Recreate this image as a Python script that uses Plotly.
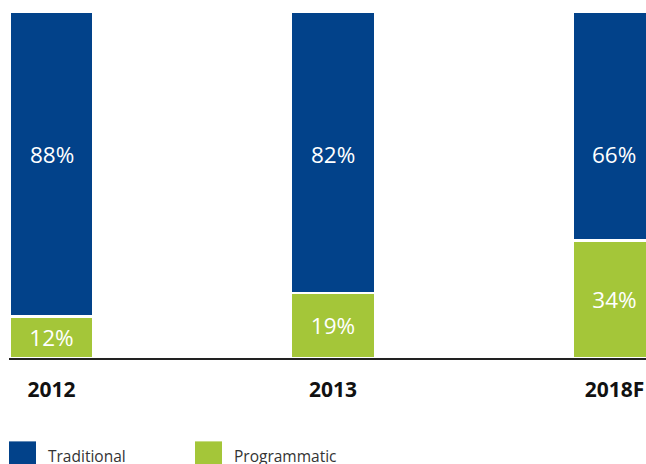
import plotly.graph_objects as go

categories = ["2012", "2013", "2018F"]
traditional = [88, 82, 66]
programmatic = [12, 19, 34]

BLUE = "#02428A"
GREEN = "#A4C639"
FONT = "Open Sans"

xpos = list(range(len(categories)))

fig = go.Figure()
fig.add_trace(go.Bar(
    x=xpos, y=programmatic, name="Programmatic",
    marker=dict(color=GREEN, line=dict(color="white", width=2.5)),
    width=0.297,
    text=[f"{v}%" for v in programmatic],
    textposition="inside", insidetextanchor="middle",
    textfont=dict(family=FONT, size=22.5, color="white"),
    hoverinfo="skip",
))
fig.add_trace(go.Bar(
    x=xpos, y=traditional, name="Traditional",
    marker=dict(color=BLUE, line=dict(color="white", width=2.5)),
    width=0.297,
    hoverinfo="skip",
))

# blue labels sit on a fixed row
for i, v in enumerate(traditional):
    fig.add_annotation(x=xpos[i], y=0.589, xref="x", yref="paper",
                       text=f"{v}%", showarrow=False,
                       font=dict(family=FONT, size=22.5, color="white"))

# custom legend
legend_items = [("Traditional", BLUE, 0.0), ("Programmatic", GREEN, 0.292)]
for label, color, x0 in legend_items:
    fig.add_shape(type="rect", xref="paper", yref="paper",
                  x0=x0, x1=x0 + 0.0424, y0=-0.241, y1=-0.34,
                  fillcolor=color, line=dict(width=0))
    fig.add_annotation(x=x0 + 0.058, y=-0.283, xref="paper", yref="paper",
                       xanchor="left", yanchor="middle", text=label,
                       showarrow=False,
                       font=dict(family=FONT, size=15.5, color="#333333"))

fig.update_layout(
    width=646, height=464,
    margin=dict(l=9, r=0, t=12, b=106),
    barmode="stack", barnorm="percent",
    paper_bgcolor="white", plot_bgcolor="white",
    showlegend=False,
    xaxis=dict(range=[-0.151, 2.112], tickvals=xpos, ticktext=categories,
               showline=True, linecolor="#222222", linewidth=2,
               showgrid=False, zeroline=False, ticks="",
               ticklabelstandoff=12,
               tickfont=dict(family=FONT, size=21, color="#111111", weight="bold")),
    yaxis=dict(range=[0, 100], visible=False, showgrid=False, zeroline=False),
    uniformtext=dict(minsize=22, mode="show"),
)

fig.write_html("out.html")
